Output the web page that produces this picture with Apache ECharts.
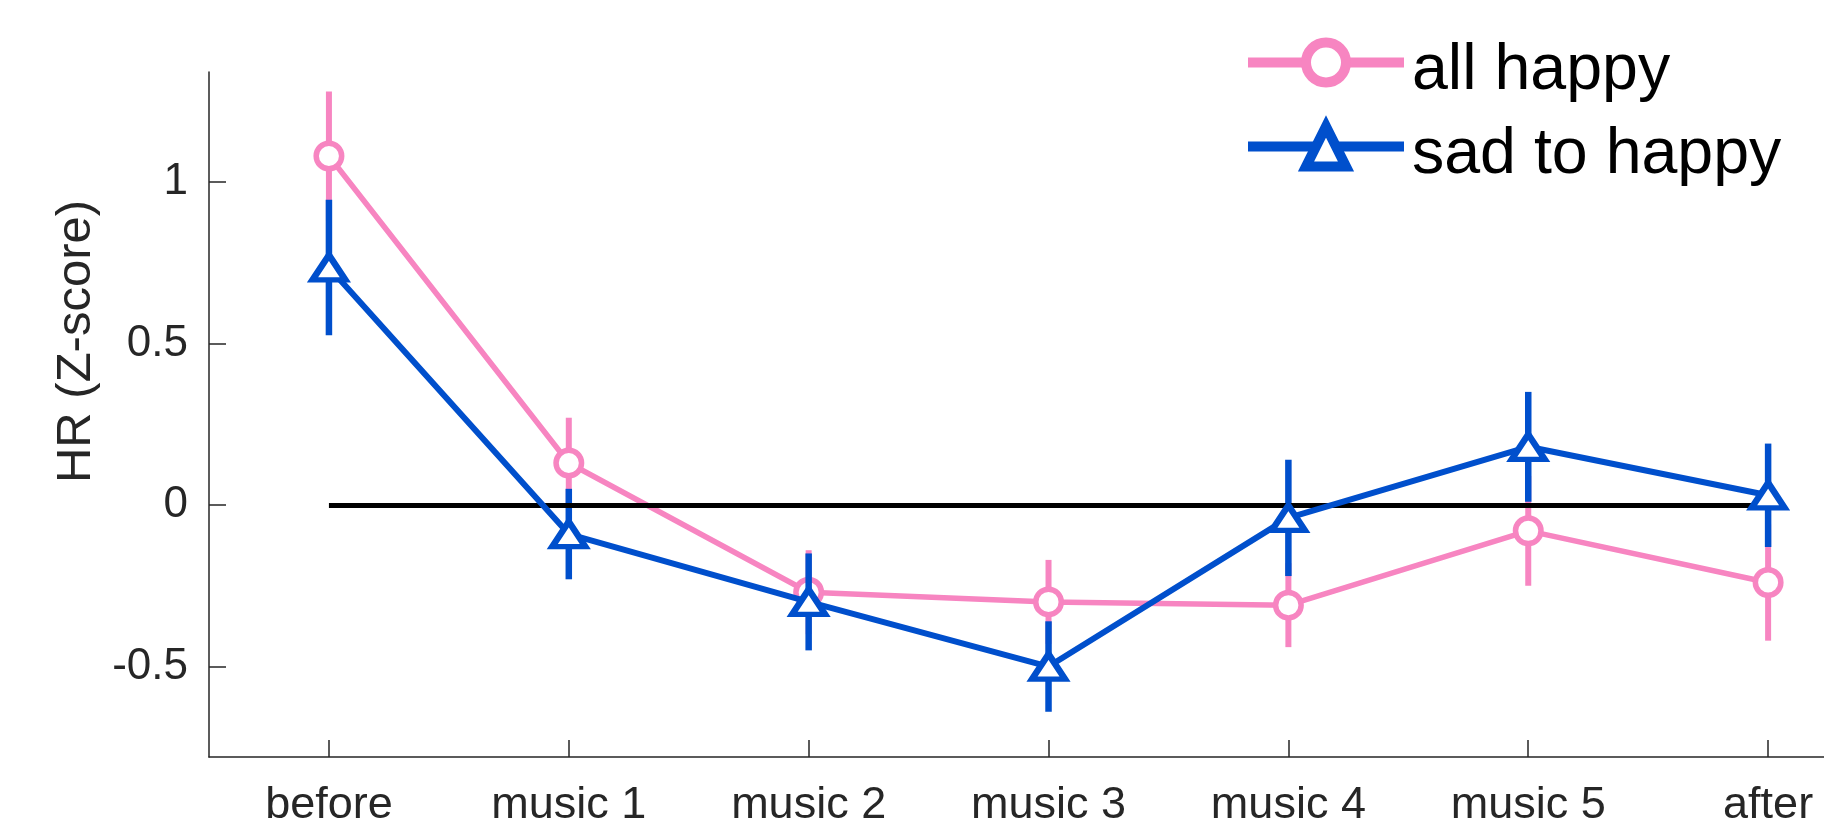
<!DOCTYPE html>
<html>
<head>
<meta charset="utf-8">
<script src="https://cdn.jsdelivr.net/npm/echarts@6/dist/echarts.min.js"></script>
<style>html,body{margin:0;padding:0;background:#fff;overflow:hidden}#c{width:1824px;height:829px}</style>
</head>
<body>
<div id="c"></div>
<script>
const categories = ['before', 'music 1', 'music 2', 'music 3', 'music 4', 'music 5', 'after'];
const happyMean = [1.08, 0.13, -0.27, -0.30, -0.31, -0.08, -0.24];
const happyErr  = [0.20, 0.14, 0.13, 0.13, 0.13, 0.17, 0.18];
const sadMean   = [0.735, -0.09, -0.30, -0.50, -0.04, 0.18, 0.03];
const sadErr    = [0.21, 0.14, 0.15, 0.14, 0.18, 0.17, 0.16];
const yTicks    = [-0.5, 0, 0.5, 1];
const yRange    = [-0.78, 1.34];
const xRange    = [-0.5, 6.233];
const seriesNames = ['all happy', 'sad to happy'];

const PINK = '#F785C1';
const BLUE = '#004FCC';
const AX = '#262626';
const FONT = '"Liberation Sans", Arial, Helvetica, sans-serif';
const xIdx = categories.map((c, i) => i);

function errSeries(mean, err, color, width, z) {
  return {
    type: 'custom',
    z: z,
    silent: true,
    data: mean.map((m, i) => [i, m - err[i], m + err[i]]),
    renderItem: function (params, api) {
      const p1 = api.coord([api.value(0), api.value(1)]);
      const p2 = api.coord([api.value(0), api.value(2)]);
      return {
        type: 'line',
        shape: { x1: p1[0], y1: p1[1], x2: p2[0], y2: p2[1] },
        style: { stroke: color, lineWidth: width }
      };
    },
    encode: { x: 0, y: [1, 2] }
  };
}

const chart = echarts.init(document.getElementById('c'), null, { renderer: 'canvas' });
chart.setOption({
  animation: false,
  backgroundColor: '#fff',
  grid: { left: 209, right: 0, top: 72, bottom: 72, containLabel: false },
  legend: {
    left: 1238,
    top: 16,
    orient: 'vertical',
    itemWidth: 156,
    itemHeight: 50,
    itemGap: 1,
    selectedMode: false,
    formatter: '{t|{name}}',
    textStyle: {
      fontSize: 64.5, color: '#000', fontFamily: FONT,
      rich: { t: { fontSize: 64.5, color: '#000', fontFamily: FONT, lineHeight: 60, padding: [18, 0, 0, 3] } }
    },
    data: [
      { name: seriesNames[0], itemStyle: { color: '#fff', borderColor: PINK, borderWidth: 10 }, lineStyle: { color: PINK, width: 10 } },
      { name: seriesNames[1], itemStyle: { color: '#fff', borderColor: BLUE, borderWidth: 10 }, lineStyle: { color: BLUE, width: 10 } }
    ]
  },
  xAxis: {
    type: 'value',
    min: xRange[0],
    max: xRange[1],
    axisLine: { onZero: false, lineStyle: { color: AX, width: 1.5 } },
    axisTick: { inside: true, length: 17, customValues: xIdx, lineStyle: { color: AX, width: 1.5 } },
    axisLabel: { fontSize: 45, color: AX, fontFamily: FONT, margin: 26, customValues: xIdx,
      formatter: v => categories[Math.round(v)] },
    splitLine: { show: false }
  },
  yAxis: {
    type: 'value',
    min: yRange[0],
    max: yRange[1],
    name: 'HR (Z-score)',
    nameLocation: 'middle',
    nameGap: 90,
    nameTextStyle: { fontSize: 49, color: AX, fontFamily: FONT, padding: [0, 0, 0, 146] },
    axisLine: { show: true, onZero: false, lineStyle: { color: AX, width: 1.5 } },
    axisTick: { show: true, inside: true, length: 17, customValues: yTicks, lineStyle: { color: AX, width: 1.5 } },
    axisLabel: { fontSize: 44, color: AX, fontFamily: FONT, margin: 21, customValues: yTicks,
      formatter: v => String(v) },
    splitLine: { show: false }
  },
  series: [
    {
      type: 'line',
      name: '_zero',
      data: [],
      z: 1,
      markLine: {
        silent: true,
        symbol: ['none', 'none'],
        label: { show: false },
        lineStyle: { color: '#000', width: 5, type: 'solid' },
        data: [[{ coord: [xIdx[0], 0] }, { coord: [xIdx[xIdx.length - 1], 0] }]]
      }
    },
    errSeries(happyMean, happyErr, PINK, 6, 2),
    {
      type: 'line',
      name: seriesNames[0],
      data: happyMean.map((v, i) => [i, v]),
      z: 3,
      symbol: 'circle',
      symbolSize: 25.5,
      showAllSymbol: true,
      lineStyle: { color: PINK, width: 5.5 },
      itemStyle: { color: '#fff', borderColor: PINK, borderWidth: 5.5 }
    },
    errSeries(sadMean, sadErr, BLUE, 6.5, 4),
    {
      type: 'line',
      name: seriesNames[1],
      data: sadMean.map((v, i) => [i, v]),
      z: 5,
      symbol: 'triangle',
      symbolSize: [33, 25],
      showAllSymbol: true,
      lineStyle: { color: BLUE, width: 6 },
      itemStyle: { color: '#fff', borderColor: BLUE, borderWidth: 6 }
    }
  ]
});
</script>
</body>
</html>
